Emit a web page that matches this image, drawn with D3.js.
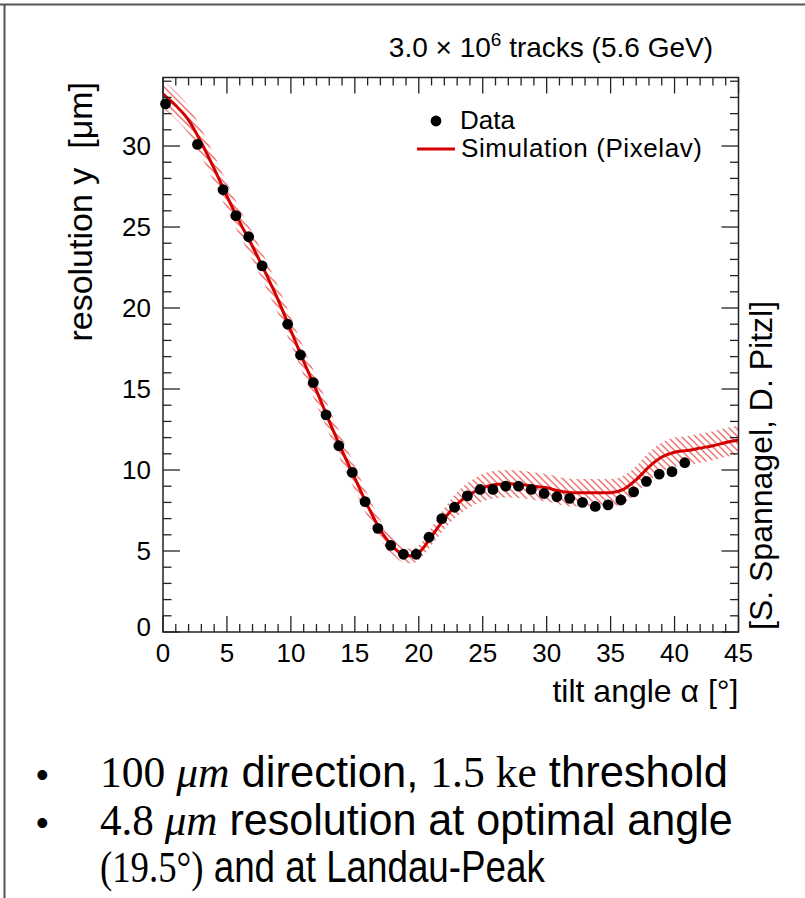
<!DOCTYPE html>
<html>
<head>
<meta charset="utf-8">
<script src="https://cdn.jsdelivr.net/npm/d3@7"></script>
<style>
  body { margin: 0; background: #fff; }
  svg { display: block; }
  text { font-family: "Liberation Sans", Arial, sans-serif; fill: #000; }
</style>
</head>
<body>
<div id="container"></div>
<script>
// measured data points (tilt angle in deg, resolution in um)
var dataX = [0.2, 2.7, 4.7, 5.7, 6.7, 7.75, 9.75, 10.75, 11.75, 12.75, 13.75, 14.8, 15.8, 16.8, 17.8, 18.8, 19.8,
  20.8, 21.8, 22.8, 23.8, 24.8, 25.8, 26.8, 27.8, 28.8, 29.8, 30.8, 31.8, 32.8, 33.8, 34.8, 35.8, 36.8, 37.8, 38.8, 39.8, 40.8];
var dataY = [32.6, 30.1, 27.3, 25.7, 24.4, 22.6, 19.0, 17.1, 15.4, 13.4, 11.5, 9.85, 8.05, 6.4, 5.35, 4.8, 4.8,
  5.85, 7.0, 7.7, 8.4, 8.8, 8.8, 9.0, 9.0, 8.8, 8.55, 8.35, 8.25, 8.0, 7.75, 7.85, 8.15, 8.65, 9.3, 9.75, 9.9, 10.45];

// simulation (Pixelav) curve and its uncertainty band
var simX = [0, 1, 2, 3, 4, 5, 6, 7, 8, 9, 10, 11, 12, 13, 14, 15, 16, 17, 18, 19, 19.5, 20, 21, 22, 23, 24, 25, 26,
  27, 28, 29, 30, 31, 32, 33, 34, 35, 36, 37, 38, 39, 40, 41, 42, 43, 44, 45];
var simY = [33.2, 32.5, 31.6, 30.2, 28.6, 26.9, 25.3, 23.8, 22.2, 20.5, 18.6, 16.7, 14.9, 13.0, 11.2, 9.5, 7.8, 6.3,
  5.25, 4.7, 4.7, 4.9, 5.9, 7.0, 7.9, 8.5, 8.9, 9.1, 9.15, 9.1, 9.0, 8.9, 8.7, 8.6, 8.6, 8.6, 8.6, 8.8, 9.4, 10.2,
  10.8, 11.1, 11.2, 11.35, 11.5, 11.7, 11.85];
var simErr = [0.85, 0.85, 0.85, 0.85, 0.85, 0.85, 0.85, 0.85, 0.85, 0.85, 0.85, 0.85, 0.85, 0.8, 0.8, 0.75, 0.7, 0.6,
  0.5, 0.45, 0.45, 0.45, 0.55, 0.65, 0.75, 0.8, 0.85, 0.85, 0.85, 0.85, 0.85, 0.85, 0.85, 0.85, 0.85, 0.85, 0.85,
  0.85, 0.85, 0.9, 0.9, 0.9, 0.9, 0.9, 0.9, 0.9, 0.9];

var xTicks = [0, 5, 10, 15, 20, 25, 30, 35, 40, 45];
var yTicks = [0, 5, 10, 15, 20, 25, 30];

var width = 805, height = 898;
var pLeft = 163, pRight = 738.5, pTop = 77.5, pBottom = 632;

var svg = d3.select("#container").append("svg").attr("width", width).attr("height", height);

// slide border
svg.append("path").attr("d", "M0,4.5H805M4.5,4.5V898").attr("stroke", "#555").attr("stroke-width", 2).attr("fill", "none");

var x = d3.scaleLinear().domain([0, 45]).range([pLeft, pRight]);
var y = d3.scaleLinear().domain([0, 34.23]).range([pBottom, pTop]);

var defs = svg.append("defs");
defs.append("clipPath").attr("id", "plotclip").append("rect")
  .attr("x", pLeft).attr("y", pTop).attr("width", pRight - pLeft).attr("height", pBottom - pTop);
var pat = defs.append("pattern").attr("id", "hatch").attr("patternUnits", "userSpaceOnUse")
  .attr("width", 7).attr("height", 7);
pat.append("path").attr("d", "M-1,-1L8,8M-1,6L1,8M6,-1L8,1")
  .attr("stroke", "#ef7474").attr("stroke-width", 1.5);

var sim = simX.map(function(d, i) { return {x: d, y: simY[i], e: simErr[i]}; });

var plot = svg.append("g").attr("clip-path", "url(#plotclip)");

var band = d3.area().curve(d3.curveMonotoneX)
  .x(function(d) { return x(d.x); })
  .y0(function(d) { return y(d.y - d.e); })
  .y1(function(d) { return y(d.y + d.e); });
plot.append("path").datum(sim).attr("d", band).attr("fill", "url(#hatch)");

var line = d3.line().curve(d3.curveMonotoneX)
  .x(function(d) { return x(d.x); })
  .y(function(d) { return y(d.y); });
plot.append("path").datum(sim).attr("d", line).attr("fill", "none")
  .attr("stroke", "#d40000").attr("stroke-width", 3);

// frame and ticks on all four sides
svg.append("rect").attr("x", pLeft).attr("y", pTop).attr("width", pRight - pLeft).attr("height", pBottom - pTop)
  .attr("fill", "none").attr("stroke", "#222").attr("stroke-width", 1.5);

var ticks = svg.append("g").attr("stroke", "#222").attr("stroke-width", 1.3);
d3.range(0, 46).forEach(function(v) {
  var len = v % 5 == 0 ? 16 : 8;
  ticks.append("line").attr("x1", x(v)).attr("x2", x(v)).attr("y1", pBottom).attr("y2", pBottom - len);
  ticks.append("line").attr("x1", x(v)).attr("x2", x(v)).attr("y1", pTop).attr("y2", pTop + len);
});
d3.range(0, 35).forEach(function(v) {
  var len = v % 5 == 0 ? 17 : 8.5;
  ticks.append("line").attr("y1", y(v)).attr("y2", y(v)).attr("x1", pLeft).attr("x2", pLeft + len);
  ticks.append("line").attr("y1", y(v)).attr("y2", y(v)).attr("x1", pRight).attr("x2", pRight - len);
});

svg.append("g").selectAll("text").data(xTicks).enter().append("text")
  .attr("x", function(d) { return x(d); }).attr("y", pBottom + 30)
  .attr("text-anchor", "middle").attr("font-size", 26).text(function(d) { return d; });
svg.append("g").selectAll("text").data(yTicks).enter().append("text")
  .attr("x", pLeft - 12).attr("y", function(d) { return d == 0 ? y(d) + 4 : y(d) + 9; })
  .attr("text-anchor", "end").attr("font-size", 26).text(function(d) { return d; });

// data markers
svg.append("g").selectAll("circle").data(dataX).enter().append("circle")
  .attr("cx", function(d) { return x(d); })
  .attr("cy", function(d, i) { return y(dataY[i]); })
  .attr("r", 5.4).attr("fill", "#000");

// axis titles
svg.append("text").attr("x", pRight).attr("y", 702).attr("text-anchor", "end").attr("font-size", 32)
  .text("tilt angle \u03b1 [\u00b0]");
svg.append("text").attr("transform", "translate(92,82) rotate(-90)").attr("text-anchor", "end")
  .attr("font-size", 34).attr("xml:space", "preserve").text("resolution y  [\u03bcm]");
svg.append("text").attr("transform", "translate(772,630) rotate(-90)").attr("text-anchor", "start")
  .attr("font-size", 32).text("[S. Spannagel, D. Pitzl]");

// header
var title = svg.append("text").attr("x", 713).attr("y", 57).attr("text-anchor", "end").attr("font-size", 28);
title.append("tspan").text("3.0 \u00d7 10");
title.append("tspan").attr("dy", -11).attr("font-size", 19).text("6");
title.append("tspan").attr("dy", 11).text(" tracks (5.6 GeV)");

// legend
svg.append("circle").attr("cx", 436).attr("cy", 121).attr("r", 5.4).attr("fill", "#000");
svg.append("text").attr("x", 460).attr("y", 129).attr("font-size", 26).text("Data");
svg.append("line").attr("x1", 417).attr("x2", 455).attr("y1", 149).attr("y2", 149)
  .attr("stroke", "#d40000").attr("stroke-width", 3);
svg.append("text").attr("x", 461).attr("y", 157).attr("font-size", 26).attr("textLength", 241).text("Simulation (Pixelav)");

// bullet text below the plot
var serif = "'Liberation Serif', 'DejaVu Serif', serif";
var bullets = [
  [["100 ", serif, "normal"], ["\u03bcm", serif, "italic"], [" direction, ", null, "normal"], ["1.5 ke", serif, "normal"], [" threshold", null, "normal"]],
  [["4.8 ", serif, "normal"], ["\u03bcm", serif, "italic"], [" resolution at optimal angle", null, "normal"]],
  [["(19.5\u00b0)", serif, "normal"], [" and at Landau-Peak", null, "normal"]]
];
var bulletY = [787, 835, 882];
var bulletEnd = [728, 733, 545];
bullets.forEach(function(parts, i) {
  if (i < 2) svg.append("text").attr("x", 36).attr("y", bulletY[i]).attr("font-size", 36).text("\u2022");
  var g = svg.append("g");
  var t = g.append("text").attr("x", 0).attr("y", 0).attr("font-size", 44).attr("xml:space", "preserve");
  parts.forEach(function(p) {
    var s = t.append("tspan").text(p[0]).attr("font-style", p[2]);
    if (p[1]) s.attr("font-family", p[1]);
  });
  var w = t.node().getComputedTextLength();
  g.attr("transform", "translate(100," + bulletY[i] + ") scale(" + ((bulletEnd[i] - 100) / w) + ",1)");
});
</script>
</body>
</html>
